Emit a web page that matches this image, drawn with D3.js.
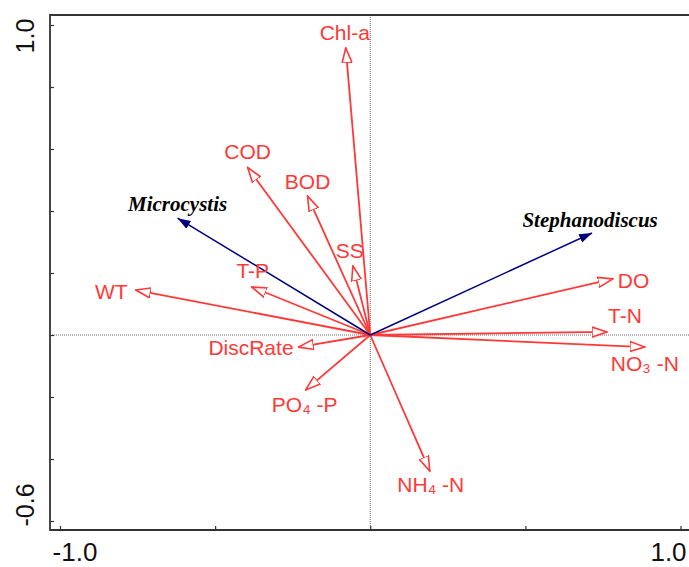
<!DOCTYPE html>
<html>
<head>
<meta charset="utf-8">
<script src="https://cdn.jsdelivr.net/npm/d3@7"></script>
<style>
  body { margin: 0; background: #fff; overflow: hidden; }
  svg { display: block; }
</style>
</head>
<body>
<svg id="chart" width="689" height="567"></svg>
<script>
// environmental variables (RDA axis 1, axis 2)
const envNames = ["Chl-a", "COD", "BOD", "SS", "T-P", "WT", "DiscRate", "PO\u2084 -P", "NH\u2084 -N", "NO\u2083 -N", "T-N", "DO"];
const envX = [-0.079, -0.395, -0.202, -0.056, -0.382, -0.756, -0.231, -0.208, 0.192, 0.885, 0.763, 0.782];
const envY = [0.926, 0.540, 0.448, 0.223, 0.155, 0.145, -0.039, -0.177, -0.439, -0.039, 0.010, 0.181];

// species
const spNames = ["Microcystis", "Stephanodiscus"];
const spX = [-0.621, 0.715];
const spY = [0.377, 0.329];

const xTicks = [-1.0, -0.5, 0, 0.5, 1.0];
const yTicks = [-0.6, -0.4, -0.2, 0, 0.2, 0.4, 0.6, 0.8, 1.0];
const xTickLabels = ["-1.0", "1.0"];
const yTickLabels = ["-0.6", "1.0"];

// label placement relative to arrow tip
const labelPos = {
  "Chl-a": [-1, -15, "middle"],
  "COD": [0, -16, "middle"],
  "BOD": [0, -15, "middle"],
  "SS": [-3, -15, "middle"],
  "T-P": [1, -16, "middle"],
  "WT": [-8, 1, "end"],
  "DiscRate": [-5, 0, "end"],
  "PO\u2084 -P": [-1, 15, "middle"],
  "NH\u2084 -N": [1, 13, "middle"],
  "NO\u2083 -N": [0, 16, "middle"],
  "T-N": [18, -16, "middle"],
  "DO": [5, 2, "start"],
  "Microcystis": [0, -14, "middle"],
  "Stephanodiscus": [-2, -13, "middle"]
};

const red = "#ff3838", navy = "#00007f";
const svg = d3.select("#chart");

const x = d3.scaleLinear().domain([-1, 1]).range([60, 680.5]);
const y = d3.scaleLinear().domain([-0.6, 1]).range([521, 25]);
const frameL = 50, frameT = 15, frameB = 530, frameR = 720;

const defs = svg.append("defs");
defs.append("marker")
  .attr("id", "openHead")
  .attr("markerUnits", "userSpaceOnUse")
  .attr("viewBox", "0 -6 16 12")
  .attr("refX", 15).attr("refY", 0)
  .attr("markerWidth", 16).attr("markerHeight", 12)
  .attr("orient", "auto")
  .append("path")
  .attr("d", "M0,-5L15,0L0,5Z")
  .attr("fill", "#fff")
  .attr("stroke", red)
  .attr("stroke-width", 1.6);
defs.append("marker")
  .attr("id", "solidHead")
  .attr("markerUnits", "userSpaceOnUse")
  .attr("viewBox", "0 -5 14 10")
  .attr("refX", 13).attr("refY", 0)
  .attr("markerWidth", 14).attr("markerHeight", 10)
  .attr("orient", "auto")
  .append("path")
  .attr("d", "M0,-4.5L13,0L0,4.5Z")
  .attr("fill", navy);

// dotted zero lines
svg.append("line")
  .attr("x1", x(0)).attr("x2", x(0)).attr("y1", frameT).attr("y2", frameB)
  .attr("stroke", "#666").attr("stroke-width", 1).attr("stroke-dasharray", "1,1");
svg.append("line")
  .attr("x1", frameL).attr("x2", frameR).attr("y1", y(0)).attr("y2", y(0))
  .attr("stroke", "#666").attr("stroke-width", 1).attr("stroke-dasharray", "1,1");

// frame (right edge runs off the page)
svg.append("path")
  .attr("d", `M${frameR},${frameT}H${frameL}V${frameB}H${frameR}`)
  .attr("fill", "none").attr("stroke", "#333").attr("stroke-width", 1.8);

// axes with inward ticks
const xAxis = svg.append("g")
  .attr("transform", `translate(0,${frameB})`)
  .call(d3.axisBottom(x).tickValues(xTicks).tickSize(-4).tickFormat(""));
const yAxis = svg.append("g")
  .attr("transform", `translate(${frameL},0)`)
  .call(d3.axisLeft(y).tickValues(yTicks).tickSize(-4).tickFormat(""));
[xAxis, yAxis].forEach(g => {
  g.select(".domain").remove();
  g.selectAll(".tick line").attr("stroke", "#333").attr("stroke-width", 1.2);
});

// tick labels
svg.selectAll(".xlab")
  .data(xTickLabels)
  .enter().append("text")
  .attr("x", (d, i) => x(+d) + (i === 0 ? 15 : -12))
  .attr("y", 561)
  .attr("text-anchor", "middle")
  .attr("font-family", "Liberation Sans, Arial, sans-serif")
  .attr("font-size", 26)
  .attr("fill", "#111")
  .text(d => d);
svg.selectAll(".ylab")
  .data(yTickLabels)
  .enter().append("text")
  .attr("transform", (d, i) => `translate(34,${y(+d) + (i === 0 ? -16 : 11)}) rotate(-90)`)
  .attr("text-anchor", "middle")
  .attr("font-family", "Liberation Sans, Arial, sans-serif")
  .attr("font-size", 25)
  .attr("fill", "#111")
  .text(d => d);

// arrows
const env = envNames.map((n, i) => ({ name: n, x: envX[i], y: envY[i] }));
const sp = spNames.map((n, i) => ({ name: n, x: spX[i], y: spY[i] }));

svg.selectAll(".env")
  .data(env)
  .enter().append("line")
  .attr("x1", x(0)).attr("y1", y(0))
  .attr("x2", d => x(d.x)).attr("y2", d => y(d.y))
  .attr("stroke", red).attr("stroke-width", 1.8)
  .attr("marker-end", "url(#openHead)");

svg.selectAll(".sp")
  .data(sp)
  .enter().append("line")
  .attr("x1", x(0)).attr("y1", y(0))
  .attr("x2", d => x(d.x)).attr("y2", d => y(d.y))
  .attr("stroke", navy).attr("stroke-width", 1.5)
  .attr("marker-end", "url(#solidHead)");

svg.selectAll(".envlab")
  .data(env)
  .enter().append("text")
  .attr("x", d => x(d.x) + labelPos[d.name][0])
  .attr("y", d => y(d.y) + labelPos[d.name][1])
  .attr("text-anchor", d => labelPos[d.name][2])
  .attr("dominant-baseline", "central")
  .attr("font-family", "Liberation Sans, Arial, sans-serif")
  .attr("font-size", 21)
  .attr("fill", red)
  .text(d => d.name);

svg.selectAll(".splab")
  .data(sp)
  .enter().append("text")
  .attr("x", d => x(d.x) + labelPos[d.name][0])
  .attr("y", d => y(d.y) + labelPos[d.name][1])
  .attr("text-anchor", "middle")
  .attr("dominant-baseline", "central")
  .attr("font-family", "Liberation Serif, Times New Roman, serif")
  .attr("font-style", "italic")
  .attr("font-weight", "bold")
  .attr("font-size", 21)
  .attr("fill", "#000")
  .text(d => d.name);
</script>
</body>
</html>
